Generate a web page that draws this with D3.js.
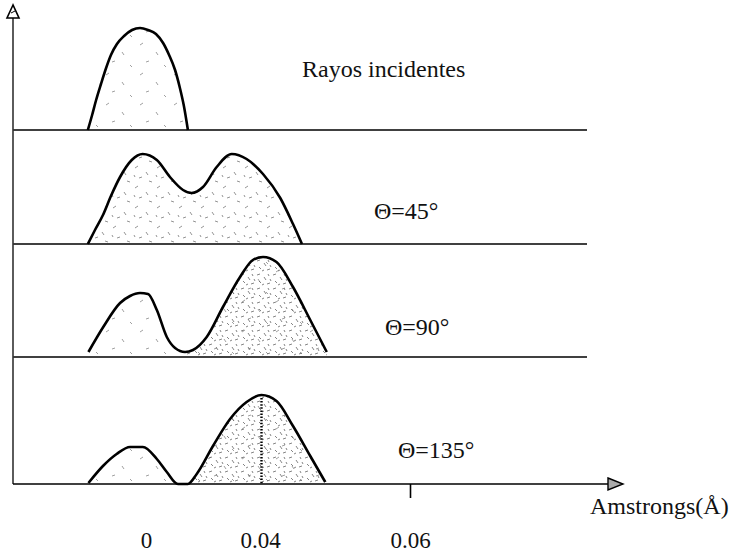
<!DOCTYPE html>
<html>
<head>
<meta charset="utf-8">
<script src="https://cdn.jsdelivr.net/npm/d3@7"></script>
<style>
body{margin:0;background:#fff}
</style>
</head>
<body>
<svg></svg>
<script>
const w = 735;
const h = 554;
const serif = "'Liberation Serif', 'Times New Roman', 'DejaVu Serif', serif";

// x in milli-angstrom (0.001 Å), intensity in arbitrary units
const incidentes = [[-20.4,0],[-18.9,15],[-17.5,30],[-15.8,46],[-14.0,62],[-12.3,75],[-10.2,86],[-7.7,94],[-4.9,100],[-2.1,102],[0.7,100],[3.5,96],[6.0,87],[8.1,75],[10.2,60],[11.9,42],[13.3,24],[14.7,0]];
const theta45 = [[-20.4,0],[-17.9,14],[-15.1,29],[-12.3,48],[-9.1,67],[-5.0,84],[-1.2,90],[3.8,84],[8.4,67],[13.0,54],[16.0,51],[20.0,57],[24.8,77],[30.1,90],[35.3,85],[40.4,70],[42.7,46],[44.4,20],[45.6,0]];
const theta90 = [[-20.2,5],[-15.0,30],[-9.1,54],[-5.6,61],[-2.1,64],[0.7,63],[3.8,47],[7.3,20],[10.2,9],[13.7,5],[16.5,7],[21.3,20],[27.0,50],[33.0,80],[37.5,97],[40.4,100],[42.2,95],[44.4,70],[46.7,37],[48.9,5]];
const theta135 = [[-20.2,1],[-15.1,18],[-10.3,30],[-5.6,37],[-1.1,37],[3.8,25],[7.3,12],[11.2,0],[14.7,0],[17.8,10],[23.5,38],[29.5,65],[35.3,82],[40.2,89],[42.2,83],[44.4,58],[46.7,28],[48.7,2]];

const series = [incidentes, theta45, theta90, theta135];
const panelLabels = ["Rayos incidentes", "Θ=45°", "Θ=90°", "Θ=135°"];
const valleys = [null, 16.0, 13.7, 13.0];   // where the denser right lobe begins
const xTicks = [0, 40, 60];
const xTitle = "Amstrongs(Å)";
const peak135 = 40.2;

// layout
const axisX = 13;
const baselines = [130, 244, 357, 484];
const labelPos = [[302,77],[374,219],[385,335],[398,458]];
const lineEnd = 587;

const svg = d3.select("svg").attr("width", w).attr("height", h);

const x = d3.scaleLinear().domain([0, 40, 60]).range([146, 260, 410]);
const y = d3.scaleLinear().domain([0, 100]).range([0, -100]);

// stipple patterns
const defs = svg.append("defs");
function stipple(id, tw, th, segs, col) {
  const p = defs.append("pattern").attr("id", id).attr("patternUnits", "userSpaceOnUse")
    .attr("width", tw).attr("height", th);
  segs.forEach(s => {
    p.append("line").attr("x1", s[0]).attr("y1", s[1]).attr("x2", s[2]).attr("y2", s[3])
      .attr("stroke", col).attr("stroke-width", 0.8);
  });
}
stipple("sparse", 34, 30, [[4,5,7,3],[20,12,22,15],[10,22,13,21],[28,25,30,27]], "#888");
stipple("medium", 22, 20, [[3,4,6,2],[14,8,16,11],[7,14,10,13],[17,17,20,18],[2,11,3,13]], "#777");
stipple("dense", 16, 14, [[1,2,4,1],[8,4,10,7],[3,8,5,10],[11,11,14,10],[12,1,13,3],[6,12,8,11],[14,6,15,8]], "#666");

const curve = d3.curveMonotoneX;
const area = d3.area().x(d=>x(d[0])).y0(0).y1(d=>y(d[1])).curve(curve);
const line = d3.line().x(d=>x(d[0])).y(d=>y(d[1])).curve(curve);

series.forEach((data, i) => {
  const g = svg.append("g").attr("transform", `translate(0,${baselines[i]})`);
  g.append("path").attr("d", area(data)).attr("fill", i === 1 ? "url(#medium)" : "url(#sparse)");
  if (i >= 2) {
    defs.append("clipPath").attr("id", "right" + i)
      .append("rect").attr("x", x(valleys[i])).attr("y", -120).attr("width", 300).attr("height", 130);
    g.append("path").attr("d", area(data)).attr("fill", "url(#dense)").attr("clip-path", `url(#right${i})`);
  }
  g.append("path").attr("d", line(data)).attr("fill", "none").attr("stroke", "#000")
    .attr("stroke-width", 2.6).attr("stroke-linejoin", "round");
  if (i < 3) {
    g.append("line").attr("x1", axisX).attr("x2", lineEnd).attr("y1", 0).attr("y2", 0)
      .attr("stroke", "#000").attr("stroke-width", 1.6);
  }
  svg.append("text").attr("x", labelPos[i][0]).attr("y", labelPos[i][1])
    .style("font-family", serif).attr("font-size", 24).attr("fill", "#111").text(panelLabels[i]);
});

// dotted line at the main peak of the last panel
const last = d3.max(theta135, d => d[1]);
svg.append("line").attr("x1", x(peak135)).attr("x2", x(peak135))
  .attr("y1", baselines[3] + y(last) + 3).attr("y2", baselines[3])
  .attr("stroke", "#000").attr("stroke-width", 2.4).attr("stroke-dasharray", "1.5,1.6");

// y axis with arrow
svg.append("line").attr("x1", axisX).attr("x2", axisX).attr("y1", 18).attr("y2", baselines[3])
  .attr("stroke", "#333").attr("stroke-width", 1.6);
svg.append("path").attr("d", `M${axisX},5L${axisX-6},18L${axisX+6},18Z`)
  .attr("fill", "#fff").attr("stroke", "#000").attr("stroke-width", 1.6);
svg.append("line").attr("x1", axisX-2).attr("x2", axisX+2).attr("y1", 13).attr("y2", 11)
  .attr("stroke", "#000").attr("stroke-width", 1);

// x axis
svg.append("line").attr("x1", axisX).attr("x2", 610).attr("y1", baselines[3]).attr("y2", baselines[3])
  .attr("stroke", "#000").attr("stroke-width", 1.6);
svg.append("path").attr("d", `M608,${baselines[3]-6}L623,${baselines[3]}L608,${baselines[3]+6}Z`)
  .attr("fill", "#aaa").attr("stroke", "#000").attr("stroke-width", 1.4);

const xAxis = d3.axisBottom(x).tickValues(xTicks).tickSize(0).tickPadding(48)
  .tickFormat(d => String(d / 1000));
const gx = svg.append("g").attr("transform", `translate(0,${baselines[3]})`).call(xAxis);
gx.select(".domain").remove();
gx.attr("font-family", null);
gx.selectAll(".tick text").style("font-family", serif).attr("font-size", 23).attr("fill", "#111");
gx.selectAll(".tick line").filter(d => d === 60).attr("y2", 14).attr("stroke", "#000").attr("stroke-width", 1.6);

svg.append("text").attr("x", 590).attr("y", 514).style("font-family", serif)
  .attr("font-size", 24).attr("fill", "#111").text(xTitle);
</script>
</body>
</html>
